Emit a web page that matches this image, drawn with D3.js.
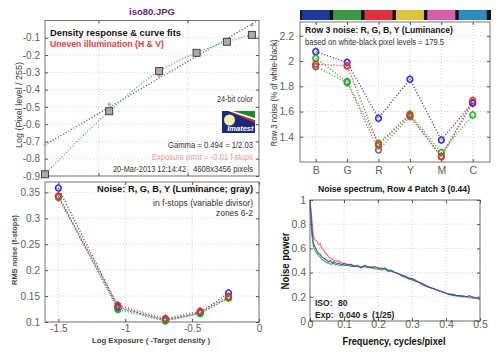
<!DOCTYPE html>
<html><head><meta charset="utf-8">
<script src="https://cdn.jsdelivr.net/npm/d3@7"></script>
<style>
body{margin:0;background:#fff}
svg{display:block;font-family:"Liberation Sans",Arial,sans-serif}
</style></head>
<body><svg id="c" width="500" height="353"></svg>
<script>
// ---------- DATA ----------
// Top-left: density response
const densX = [-1.3, -0.94, -0.66, -0.45, -0.28, -0.14];
const densY = [-0.89, -0.525, -0.293, -0.187, -0.123, -0.083];
const unevenY = [-0.718, -0.485, -0.32, -0.195, -0.11, -0.026];
const fitLineX = [-1.3, -0.115];
const fitLineY = [-0.72, -0.005];
const densYTicks = [-0.9, -0.8, -0.7, -0.6, -0.5, -0.4, -0.3, -0.2, -0.1];
const densXTicks = [-1, -0.5];

// Bottom-left: RMS noise vs log exposure
const noiseX = [-1.5, -1.055, -0.70, -0.44, -0.228];
const noiseB = [0.3585, 0.129, 0.104, 0.118, 0.156];
const noiseR = [0.343, 0.132, 0.1066, 0.1207, 0.149];
const noiseG = [0.342, 0.124, 0.102, 0.1163, 0.1465];
const noiseY = [0.340, 0.127, 0.103, 0.117, 0.147];
const noiseXTicks = [-1.5, -1, -0.5, 0];
const noiseYTicks = [0.1, 0.15, 0.2, 0.25, 0.3, 0.35];

// Top-right: Row 3 noise
const cats = ["B", "G", "R", "Y", "M", "C"];
const rowB = [2.075, 1.99, 1.547, 1.856, 1.375, 1.67];
const rowR = [1.975, 1.962, 1.335, 1.57, 1.242, 1.687];
const rowG = [2.023, 1.837, 1.348, 1.581, 1.274, 1.573];
const rowY = [1.956, 1.83, 1.295, 1.56, 1.245, 1.665];
const rowYTicks = [1.4, 1.6, 1.8, 2, 2.2];

// Bottom-right: noise spectrum
const freq = [0,0.005,0.01,0.015,0.02,0.025,0.03,0.035,0.04,0.045,0.05,0.055,0.06,0.065,0.07,0.075,0.08,0.085,0.09,0.095,0.1,
  0.11,0.12,0.13,0.14,0.15,0.16,0.17,0.18,0.19,0.2,0.21,0.22,0.23,0.24,0.25,0.26,0.27,0.28,0.29,0.3,
  0.31,0.32,0.33,0.34,0.35,0.36,0.37,0.38,0.39,0.4,0.41,0.42,0.43,0.44,0.45,0.46,0.47,0.48,0.49,0.5];
const specR = [1.00,0.86,0.70,0.67,0.66,0.63,0.64,0.60,0.59,0.56,0.55,0.53,0.52,0.51,0.50,0.50,0.49,0.50,0.48,0.48,0.47,
  0.47,0.46,0.46,0.45,0.45,0.45,0.44,0.45,0.44,0.43,0.44,0.43,0.42,0.41,0.40,0.39,0.38,0.37,0.36,0.35,
  0.34,0.32,0.31,0.30,0.28,0.27,0.26,0.25,0.24,0.23,0.22,0.22,0.21,0.21,0.21,0.20,0.20,0.20,0.19,0.19];
const specG = [0.95,0.72,0.62,0.58,0.56,0.54,0.53,0.51,0.50,0.49,0.48,0.48,0.47,0.47,0.48,0.46,0.47,0.46,0.46,0.47,0.46,
  0.46,0.45,0.45,0.45,0.44,0.45,0.44,0.44,0.43,0.43,0.42,0.43,0.41,0.41,0.40,0.39,0.37,0.36,0.35,0.34,
  0.33,0.32,0.30,0.29,0.28,0.27,0.26,0.25,0.24,0.23,0.22,0.21,0.21,0.20,0.20,0.20,0.19,0.19,0.19,0.18];
const specB = [1.00,0.78,0.64,0.61,0.58,0.56,0.55,0.53,0.52,0.51,0.50,0.49,0.50,0.48,0.49,0.48,0.47,0.48,0.47,0.46,0.48,
  0.46,0.47,0.45,0.46,0.44,0.46,0.45,0.44,0.45,0.44,0.43,0.44,0.42,0.42,0.40,0.39,0.38,0.37,0.35,0.35,
  0.33,0.32,0.31,0.29,0.28,0.27,0.26,0.25,0.24,0.23,0.22,0.22,0.21,0.21,0.20,0.20,0.21,0.19,0.19,0.18];
const specXTicks = [0, 0.1, 0.2, 0.3, 0.4, 0.5];
const specYTicks = [0, 0.2, 0.4, 0.6, 0.8, 1];

// ---------- STYLE ----------
const C = {blue:"#2a2af0", red:"#f02a2a", green:"#1fb51f", gray:"#6e6e6e"};
const barColors = ["#1b3a9e","#3a9a46","#e0303e","#dcc43c","#d85ca8","#2a8cbc"];
const svg = d3.select("#c");
const fmt = d => String(+(+d).toFixed(2));

function frame(xs, ys, xt, yt, o) {
  const g = svg.append("g");
  const [x0, x1] = xs.range(), [y0, y1] = ys.range();
  const gx = o.gridX || xt, gy = o.gridY || yt;
  g.selectAll(".gx").data(gx).enter().append("line")
    .attr("x1", d => xs(d)).attr("x2", d => xs(d)).attr("y1", y0).attr("y2", y1)
    .attr("stroke", "#c4c4c4").attr("stroke-width", 0.8).attr("stroke-dasharray", "1,2");
  g.selectAll(".gy").data(gy).enter().append("line")
    .attr("x1", x0).attr("x2", x1).attr("y1", d => ys(d)).attr("y2", d => ys(d))
    .attr("stroke", "#c4c4c4").attr("stroke-width", 0.8).attr("stroke-dasharray", "1,2");
  const fs = o.fs || 10;
  const style = a => { a.select(".domain").remove(); a.selectAll("line").attr("stroke", "#555");
    a.selectAll("text").attr("fill", "#606060").style("font-size", fs + "px").style("font-family", "Liberation Sans, Arial, sans-serif"); };
  const bx = g.append("g").attr("transform", `translate(0,${y0})`)
    .call(d3.axisBottom(xs).tickValues(xt).tickSizeInner(-3).tickSizeOuter(0).tickPadding(o.xpad != null ? o.xpad : 6).tickFormat(o.xlab ? (d, i) => o.xlab[i] : (o.noXLab ? () => "" : fmt)));
  style(bx);
  const tx = g.append("g").attr("transform", `translate(0,${y1})`)
    .call(d3.axisTop(xs).tickValues(xt).tickSizeInner(-3).tickSizeOuter(0).tickFormat(() => ""));
  style(tx);
  const ly = g.append("g").attr("transform", `translate(${x0},0)`)
    .call(d3.axisLeft(ys).tickValues(yt).tickSizeInner(-3).tickSizeOuter(0).tickPadding(o.ypad || 6).tickFormat(fmt));
  style(ly);
  const ry = g.append("g").attr("transform", `translate(${x1},0)`)
    .call(d3.axisRight(ys).tickValues(yt).tickSizeInner(-3).tickSizeOuter(0).tickFormat(() => ""));
  style(ry);
  g.append("rect").attr("x", x0).attr("y", y1).attr("width", x1 - x0).attr("height", y0 - y1)
    .attr("fill", "none").attr("stroke", "#555").attr("stroke-width", 0.8);
  return g;
}

function txt(x, y, s, o = {}) {
  const t = svg.append("text").attr("x", x).attr("y", y).text(s)
    .style("font-size", (o.fs || 9) + "px").attr("fill", o.fill || "#222")
    .attr("text-anchor", o.anchor || "start");
  if (o.bold) t.attr("font-weight", "bold");
  if (o.italic) t.attr("font-style", "italic");
  if (o.len) t.attr("textLength", o.len).attr("lengthAdjust", "spacingAndGlyphs");
  if (o.rot) t.attr("transform", `rotate(-90,${x},${y})`);
  return t;
}

function markerSeries(g, xs, ys, xv, yv, color) {
  const pts = xv.map((x, i) => [xs(x), ys(yv[i])]);
  g.append("path").attr("d", d3.line()(pts)).attr("fill", "none")
    .attr("stroke", color).attr("stroke-width", 1.3).attr("stroke-dasharray", "1,2");
  pts.forEach(p => {
    g.append("circle").attr("cx", p[0]).attr("cy", p[1]).attr("r", 3).attr("fill", "none")
      .attr("stroke", color).attr("stroke-width", 1.1);
    g.append("path").attr("d", `M${p[0]},${p[1]-4}L${p[0]+2.6},${p[1]}L${p[0]},${p[1]+4}L${p[0]-2.6},${p[1]}Z`)
      .attr("fill", "none").attr("stroke", color).attr("stroke-width", 0.9);
  });
}

// ---------- TOP-LEFT ----------
{
  const xs = d3.scaleLinear().domain([-1.3, -0.1]).range([45, 259]);
  const ys = d3.scaleLinear().domain([-0.9, 0]).range([176, 20.5]);
  frame(xs, ys, densXTicks, densYTicks, {noXLab: true, fs: 10, ypad: 5});
  const g = svg.append("g");
  g.append("path").attr("d", d3.line()(fitLineX.map((x, i) => [xs(x), ys(fitLineY[i])])))
    .attr("fill", "none").attr("stroke", "#3a3af5").attr("stroke-width", 1.3).attr("stroke-dasharray", "1,2");
  g.append("path").attr("d", d3.line().curve(d3.curveMonotoneX)(densX.map((x, i) => [xs(x), ys(densY[i])])))
    .attr("fill", "none").attr("stroke", "#2ec42e").attr("stroke-width", 1.3).attr("stroke-dasharray", "1,2");
  densX.forEach((x, i) => {
    g.append("circle").attr("cx", xs(x)).attr("cy", ys(unevenY[i])).attr("r", 1.5).attr("fill", "#f08a8a");
  });
  densX.forEach((x, i) => {
    g.append("rect").attr("x", xs(x) - 3.5).attr("y", ys(densY[i]) - 3.5).attr("width", 7).attr("height", 7)
      .attr("fill", "#ababab").attr("stroke", "#333").attr("stroke-width", 0.9);
  });
  txt(152, 15, "iso80.JPG", {bold: true, fill: "#6a2a7a", anchor: "middle", fs: 9.5});
  txt(50, 36, "Density response & curve fits", {bold: true, fs: 9.5, fill: "#111", len: 131});
  txt(50, 47, "Uneven illumination (H & V)", {bold: true, fs: 9, fill: "#e43c3c", len: 114});
  txt(253, 102, "24-bit color", {anchor: "end", fs: 8.5, fill: "#333", len: 36});
  // logo
  const bx = 222, by = 111, w = 33, h = 22;
  g.append("rect").attr("x", bx).attr("y", by).attr("width", w).attr("height", h).attr("fill", "#1b2a7e");
  const poly = pts => g.append("polygon").attr("points", pts.map(p => p.join(",")).join(" "));
  poly([[bx + w * 0.18, by], [bx + w, by], [bx + w, by + h * 0.55]]).attr("fill", "#d02828");
  poly([[bx + w * 0.2, by], [bx + w, by], [bx + w, by + h * 0.42]]).attr("fill", "#ffffff");
  poly([[bx + w * 0.32, by], [bx + w, by], [bx + w, by + h * 0.32]]).attr("fill", "#1e8a2e");
  g.append("circle").attr("cx", bx + 7.5).attr("cy", by + 9).attr("r", 5.5).attr("fill", "#f6f0a8");
  g.append("text").attr("x", bx + w - 1.5).attr("y", by + h - 2).attr("text-anchor", "end")
    .attr("fill", "#fff").attr("font-weight", "bold").attr("font-style", "italic").style("font-size", "7.5px").text("Imatest");
  txt(253, 147.5, "Gamma = 0.494 = 1/2.03", {anchor: "end", fs: 8.5, fill: "#333", len: 85});
  txt(253, 159.5, "Exposure error = -0.01 f-stops", {anchor: "end", fs: 8.5, fill: "#f29a9a", len: 101});
  txt(186, 171.5, "20-Mar-2013 12:14:42", {anchor: "end", fs: 8.5, fill: "#333", len: 73});
  txt(253, 171.5, "4608x3456 pixels", {anchor: "end", fs: 8.5, fill: "#333", len: 60});
  txt(22, 105, "Log (Pixel level / 255)", {rot: true, anchor: "middle", fs: 8.5, fill: "#333", len: 86});
}

// ---------- BOTTOM-LEFT ----------
{
  const xs = d3.scaleLinear().domain([-1.6, 0]).range([45, 259]);
  const ys = d3.scaleLinear().domain([0.1, 0.37]).range([322, 182]);
  frame(xs, ys, noiseXTicks, noiseYTicks, {fs: 10, xpad: 3, ypad: 5});
  const g = svg.append("g");
  markerSeries(g, xs, ys, noiseX, noiseY, C.gray);
  markerSeries(g, xs, ys, noiseX, noiseB, C.blue);
  markerSeries(g, xs, ys, noiseX, noiseG, C.green);
  markerSeries(g, xs, ys, noiseX, noiseR, C.red);
  txt(253, 192, "Noise: R, G, B, Y (Luminance; gray)", {anchor: "end", bold: true, fs: 9.5, fill: "#111", len: 156});
  txt(253, 205.5, "in f-stops (variable divisor)", {anchor: "end", fs: 8.5, fill: "#333", len: 100});
  txt(253, 215.5, "zones 6-2", {anchor: "end", fs: 8.5, fill: "#333", len: 37});
  txt(151, 342.5, "Log Exposure ( -Target density )", {anchor: "middle", bold: true, fs: 8, fill: "#444", len: 118});
  txt(17, 250, "RMS noise (f-stops)", {rot: true, anchor: "middle", bold: true, fs: 8, fill: "#444", len: 70});
}

// ---------- TOP-RIGHT ----------
{
  const xs = d3.scaleLinear().domain([0.5, 6.55]).range([300, 490]);
  const ys = d3.scaleLinear().domain([1.2, 2.31]).range([162, 22]);
  const idx = cats.map((c, i) => i + 1);
  // colour bar
  svg.append("rect").attr("x", 300).attr("y", 10).attr("width", 191).attr("height", 10).attr("fill", "#111");
  svg.selectAll(".bar").data(idx).enter().append("rect")
    .attr("x", d => xs(d) - 14).attr("y", 10).attr("width", 28).attr("height", 10)
    .attr("fill", (d, i) => barColors[i]);
  frame(xs, ys, idx, rowYTicks, {xlab: cats, fs: 10.5, xpad: 5, ypad: 6});
  const g = svg.append("g");
  markerSeries(g, xs, ys, idx, rowY, C.gray);
  markerSeries(g, xs, ys, idx, rowB, C.blue);
  markerSeries(g, xs, ys, idx, rowG, C.green);
  markerSeries(g, xs, ys, idx, rowR, C.red);
  txt(305, 33, "Row 3 noise: R, G, B, Y (Luminance)", {bold: true, fs: 9.5, fill: "#111", len: 148});
  txt(305, 45, "based on white-black pixel levels = 179.5", {fs: 8.5, fill: "#333", len: 139});
  txt(277, 93, "Row 3 noise (%  of white-black)", {rot: true, anchor: "middle", fs: 8.5, fill: "#333", len: 107});
}

// ---------- BOTTOM-RIGHT ----------
{
  const xs = d3.scaleLinear().domain([0, 0.5]).range([310, 480]);
  const ys = d3.scaleLinear().domain([0, 1]).range([321, 200]);
  frame(xs, ys, specXTicks, specYTicks, {fs: 10.5, xpad: 0, ypad: 4});
  const g = svg.append("g");
  const line = d3.line().x((d, i) => xs(freq[i])).y(d => ys(d));
  [[specR, "#f45a5a"], [specG, "#22b022"], [specB, "#3a3ae0"]].forEach(([s, c]) => {
    g.append("path").attr("d", line(s)).attr("fill", "none").attr("stroke", c).attr("stroke-width", 1.1).attr("opacity", 0.9);
  });
  txt(394, 192, "Noise spectrum, Row 4 Patch 3 (0.44)", {anchor: "middle", bold: true, fs: 9.5, fill: "#111", len: 152});
  txt(315, 306, "ISO:", {bold: true, fs: 8.5, fill: "#222"});
  txt(338, 306, "80", {bold: true, fs: 8.5, fill: "#222"});
  txt(315, 317.5, "Exp:", {bold: true, fs: 8.5, fill: "#222"});
  txt(339, 317.5, "0.040 s  (1/25)", {bold: true, fs: 8.5, fill: "#222"}).style("white-space", "pre");
  txt(394, 345, "Frequency, cycles/pixel", {anchor: "middle", bold: true, fs: 11, fill: "#111", len: 103});
  txt(289, 261, "Noise power", {rot: true, anchor: "middle", bold: true, fs: 11, fill: "#111", len: 57});
}
</script></body></html>
